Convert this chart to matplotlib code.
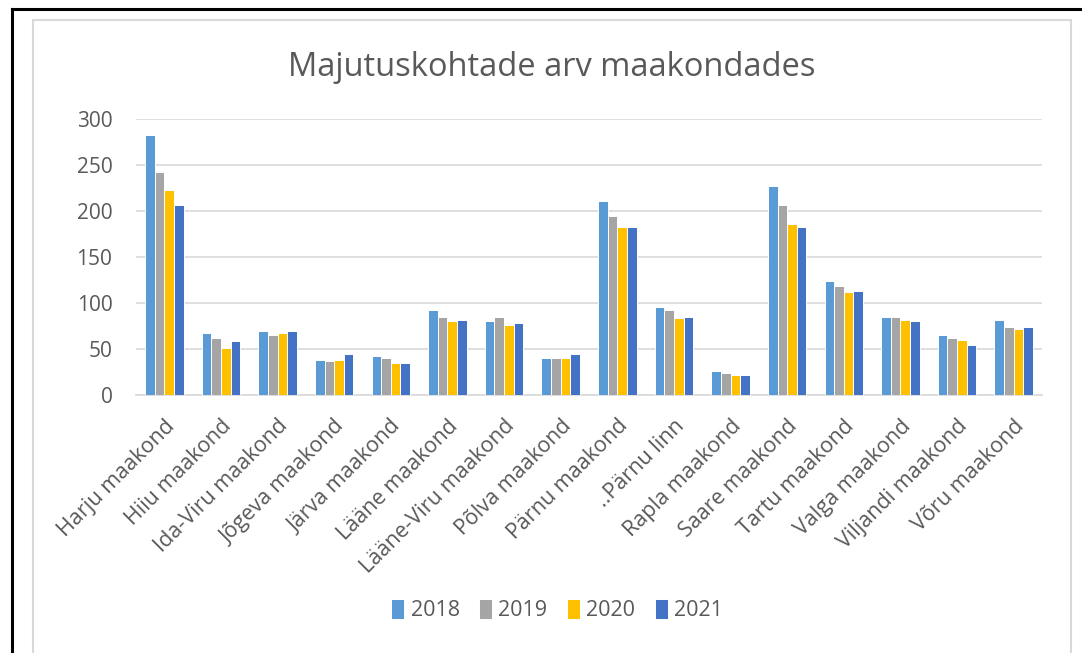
import matplotlib
matplotlib.use("Agg")
import matplotlib.pyplot as plt
import numpy as np
from matplotlib.patches import Rectangle
from matplotlib.lines import Line2D

plt.rcParams['font.family'] = ['Open Sans', 'DejaVu Sans']

counties = ["Harju maakond", "Hiiu maakond", "Ida-Viru maakond", "Jõgeva maakond",
            "Järva maakond", "Lääne maakond", "Lääne-Viru maakond", "Põlva maakond",
            "Pärnu maakond", "..Pärnu linn", "Rapla maakond", "Saare maakond",
            "Tartu maakond", "Valga maakond", "Viljandi maakond", "Võru maakond"]
years = ["2018", "2019", "2020", "2021"]
v2018 = [282, 67, 69, 38, 42, 92, 80, 40, 211, 95, 26, 227, 124, 85, 65, 81]
v2019 = [242, 62, 65, 37, 40, 85, 85, 40, 194, 92, 24, 206, 118, 85, 62, 74]
v2020 = [222, 51, 67, 38, 35, 80, 76, 40, 182, 83, 21, 186, 112, 81, 60, 71]
v2021 = [206, 58, 69, 44, 34, 81, 78, 44, 182, 85, 21, 182, 113, 80, 54, 74]
colors = ["#5B9BD5", "#A5A5A5", "#FFC000", "#4472C4"]
text_col = "#595959"

fig = plt.figure(figsize=(10.82, 6.53), dpi=100)

# outer black frame and inner grey chart border
fig.add_artist(Line2D([12 / 1082, 12 / 1082], [0, 1 - 9 / 653], color="black", lw=2.2))
fig.add_artist(Line2D([12 / 1082, 1], [1 - 9 / 653, 1 - 9 / 653], color="black", lw=2.2))
fig.add_artist(Rectangle((33 / 1082, -0.05), (1071 - 33) / 1082, 1.05 - 20 / 653,
                         fill=False, edgecolor="#D9D9D9", lw=1.5))

ax = fig.add_axes([136 / 1082, 1 - 394.7 / 653, (1042 - 136) / 1082, (394.7 - 118.7) / 653])

x = np.arange(len(counties))
w = 0.17
for i, (vals, yr) in enumerate(zip([v2018, v2019, v2020, v2021], years)):
    ax.bar(x + (i - 1.5) * w, vals, w, color=colors[i], edgecolor="white",
           linewidth=0.7, label=yr, zorder=3)

ax.set_xlim(-0.5, len(counties) - 0.5)
ax.set_ylim(0, 300)
ax.set_yticks(range(0, 301, 50))
ax.yaxis.grid(True, color="#D9D9D9", lw=1.2, zorder=0)
for s in ["top", "right", "left"]:
    ax.spines[s].set_visible(False)
ax.spines["bottom"].set_color("#D9D9D9")
ax.spines["bottom"].set_linewidth(1.2)
ax.tick_params(axis="both", length=0, colors=text_col, labelsize=15)
ax.tick_params(axis="y", pad=17)
ax.set_xticks(x)
ax.set_xticklabels(counties, rotation=45, ha="right", rotation_mode="anchor",
                   fontsize=15.5, color=text_col)
ax.tick_params(axis="x", pad=15)

fig.text(552 / 1082, 1 - 68 / 653, "Majutuskohtade arv maakondades", ha="center",
         va="center", fontsize=23.5, color=text_col)

handles, labels = ax.get_legend_handles_labels()
leg = fig.legend(handles, labels, loc="center", bbox_to_anchor=(557 / 1082, 1 - 610 / 653),
                 ncol=4, frameon=False, fontsize=15.5, handlelength=0.6, handleheight=1.1,
                 handletextpad=0.3, columnspacing=0.9)
for t in leg.get_texts():
    t.set_color(text_col)

fig.savefig("out.png", dpi=100)
